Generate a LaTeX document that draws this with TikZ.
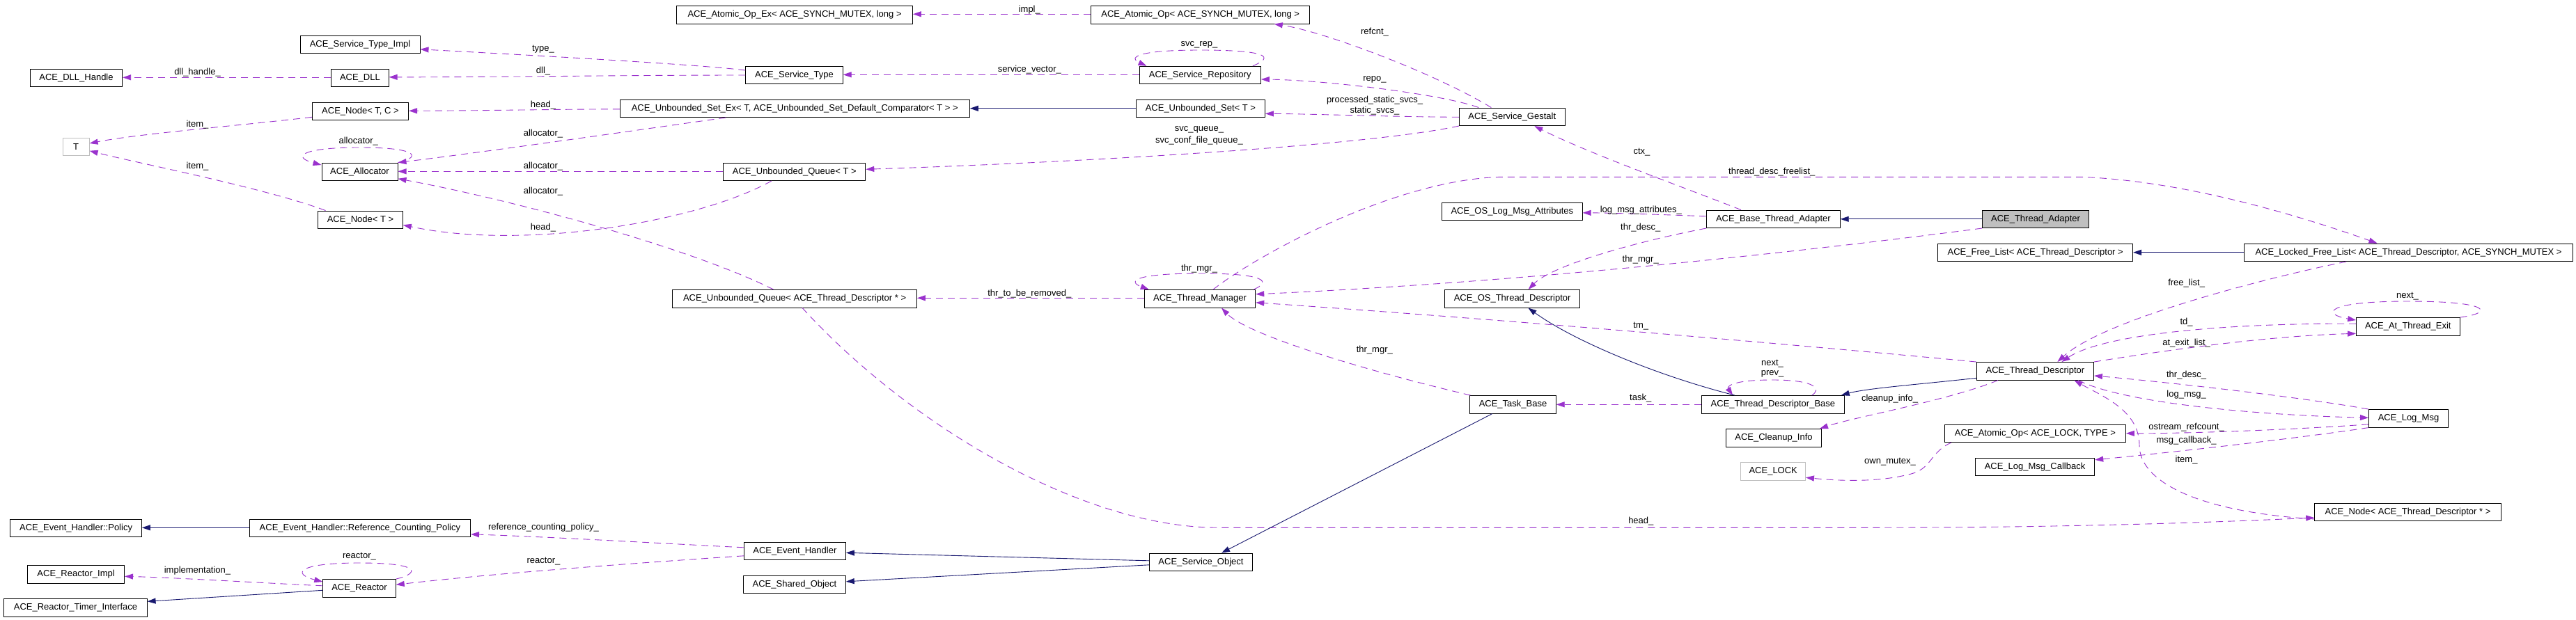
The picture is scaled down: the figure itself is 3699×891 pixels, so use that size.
\documentclass[tikz,border=0pt]{standalone}
\usepackage{fontspec}
\setmainfont{Liberation Sans}
\usetikzlibrary{arrows.meta,calc}
\definecolor{purp}{RGB}{154,50,205}
\definecolor{navyb}{RGB}{25,25,112}
\definecolor{gfill}{RGB}{191,191,191}
\newcommand\dxf{\fontsize{13pt}{15pt}\selectfont}
\begin{document}
\begin{tikzpicture}[x=1pt,y=-1pt,
  cls/.style={draw=black, line width=1pt, fill=white, inner sep=0pt, minimum height=25.5pt, font=\dxf},
  ext/.style={cls, draw=gfill},
  cur/.style={cls, fill=gfill},
  lab/.style={inner sep=0pt, font=\dxf},
  dep/.style={draw=purp, line width=0.9pt, dash pattern=on 10pt off 7pt, -{Triangle[length=12pt,width=8pt]}},
  inh/.style={draw=navyb, line width=0.9pt, -{Triangle[length=12pt,width=8pt]}}]
\useasboundingbox[fill=white] (0,0) rectangle (3699,891);
% classes
\node[cls, minimum width=338.6pt] (aopex) at (1141.1,21.3) {ACE\_Atomic\_Op\_Ex< ACE\_SYNCH\_MUTEX, long >};
\node[cls, minimum width=314pt] (aop) at (1723.7,21.3) {ACE\_Atomic\_Op< ACE\_SYNCH\_MUTEX, long >};
\node[cls, minimum width=172pt] (sti) at (517,63.8) {ACE\_Service\_Type\_Impl};
\node[cls, minimum width=132.3pt] (dllh) at (109.5,111.8) {ACE\_DLL\_Handle};
\node[cls, minimum width=82.4pt] (dll) at (516.9,111.8) {ACE\_DLL};
\node[cls, minimum width=139.4pt] (st) at (1140.5,108) {ACE\_Service\_Type};
\node[cls, minimum width=174.4pt] (srep) at (1723.2,108) {ACE\_Service\_Repository};
\node[cls, minimum width=138.2pt] (nodetc) at (517.5,159.8) {ACE\_Node< T, C >};
\node[cls, minimum width=502pt] (usetex) at (1141.3,155.8) {ACE\_Unbounded\_Set\_Ex< T, ACE\_Unbounded\_Set\_Default\_Comparator< T > >};
\node[cls, minimum width=185.1pt] (uset) at (1723.9,155.8) {ACE\_Unbounded\_Set< T >};
\node[ext, minimum width=37.9pt] (T) at (109.2,210.8) {T};
\node[cls, minimum width=109pt] (alloc) at (516.5,246.8) {ACE\_Allocator};
\node[cls, minimum width=204pt] (uq) at (1140.8,246.8) {ACE\_Unbounded\_Queue< T >};
\node[cls, minimum width=151.8pt] (gestalt) at (2171.3,167.8) {ACE\_Service\_Gestalt};
\node[cls, minimum width=121.6pt] (nodet) at (517.5,315.8) {ACE\_Node< T >};
\node[cls, minimum width=201.6pt] (oslma) at (2171.3,303.8) {ACE\_OS\_Log\_Msg\_Attributes};
\node[cls, minimum width=191.6pt] (bta) at (2546.4,314.8) {ACE\_Base\_Thread\_Adapter};
\node[cur, minimum width=152.9pt] (ta) at (2923,314.8) {ACE\_Thread\_Adapter};
\node[cls, minimum width=279.7pt] (fl) at (2922.7,362.8) {ACE\_Free\_List< ACE\_Thread\_Descriptor >};
\node[cls, minimum width=472.1pt] (lfl) at (3458.5,362.8) {ACE\_Locked\_Free\_List< ACE\_Thread\_Descriptor, ACE\_SYNCH\_MUTEX >};
\node[cls, minimum width=350.6pt] (uqtd) at (1141.1,429.3) {ACE\_Unbounded\_Queue< ACE\_Thread\_Descriptor * >};
\node[cls, minimum width=159.5pt] (tm) at (1723,429.3) {ACE\_Thread\_Manager};
\node[cls, minimum width=194pt] (ostd) at (2171.6,429.3) {ACE\_OS\_Thread\_Descriptor};
\node[cls, minimum width=148.4pt] (ate) at (3457.8,469.3) {ACE\_At\_Thread\_Exit};
\node[cls, minimum width=168.1pt] (td) at (2922.4,533.3) {ACE\_Thread\_Descriptor};
\node[cls, minimum width=123.4pt] (tb) at (2172.5,581.3) {ACE\_Task\_Base};
\node[cls, minimum width=204.7pt] (tdb) at (2545.9,581.3) {ACE\_Thread\_Descriptor\_Base};
\node[cls, minimum width=114pt] (lm) at (3458.5,601.3) {ACE\_Log\_Msg};
\node[cls, minimum width=137pt] (ci) at (2547,629.3) {ACE\_Cleanup\_Info};
\node[cls, minimum width=259.9pt] (aolt) at (2922.4,622.8) {ACE\_Atomic\_Op< ACE\_LOCK, TYPE >};
\node[cls, minimum width=171.4pt] (lmc) at (2922,670.8) {ACE\_Log\_Msg\_Callback};
\node[ext, minimum width=92.5pt] (lock) at (2546.2,677.3) {ACE\_LOCK};
\node[cls, minimum width=267.6pt] (ntd) at (3457.5,736) {ACE\_Node< ACE\_Thread\_Descriptor * >};
\node[cls, minimum width=188.6pt] (policy) at (109.1,758.8) {ACE\_Event\_Handler::Policy};
\node[cls, minimum width=317.3pt] (rcp) at (516.9,758.8) {ACE\_Event\_Handler::Reference\_Counting\_Policy};
\node[cls, minimum width=145.9pt] (eh) at (1141.4,791.8) {ACE\_Event\_Handler};
\node[cls, minimum width=138.8pt] (rimpl) at (109.1,825.3) {ACE\_Reactor\_Impl};
\node[cls, minimum width=104.4pt] (reactor) at (516,845.3) {ACE\_Reactor};
\node[cls, minimum width=205.2pt] (rti) at (108.5,873.3) {ACE\_Reactor\_Timer\_Interface};
\node[cls, minimum width=146.5pt] (sho) at (1141,839.8) {ACE\_Shared\_Object};
\node[cls, minimum width=148.3pt] (so) at (1724.5,807.8) {ACE\_Service\_Object};
% dependency edges
\draw[dep] ($(gestalt.north)+(-30,0)$) .. controls (2060,105) and (1900,45) .. ($(aop.south)+(106,0)$);
\draw[dep] ($(aop.west)+(0,-1)$) -- ($(aopex.east)+(0,-1)$);
\draw[dep] ($(st.west)+(0,-7)$) .. controls (1000,92) and (700,76) .. ($(sti.east)+(0,7)$);
\draw[dep] (st.west) .. controls (900,108) and (700,111) .. ($(dll.east)+(0,-1)$);
\draw[dep] ($(dll.west)+(0,-0.5)$) -- ($(dllh.east)+(0,-0.5)$);
\draw[dep] ($(srep.west)+(0,-0.7)$) -- ($(st.east)+(0,-0.7)$);
\draw[dep] ($(srep.north east)+(-12,0)$) .. controls (1830,82) and (1822,72) .. (1723,72) .. controls (1626,72) and (1622,84) .. ($(srep.north west)+(11,0)$);
\draw[dep] ($(gestalt.north)+(-48,0)$) .. controls (2070,135) and (1900,115) .. ($(srep.east)+(0,6)$);
\draw[dep] ($(gestalt.west)+(0,0.5)$) .. controls (2000,168) and (1900,164) .. ($(uset.east)+(0,7.5)$);
\draw[dep] (gestalt.south west) .. controls (1950,212) and (1500,235) .. ($(uq.east)+(0,-3.5)$);
\draw[dep] ($(usetex.west)+(0,1)$) .. controls (800,157) and (700,159) .. ($(nodetc.east)+(0,-0.5)$);
\draw[dep] ($(usetex.south)+(-99,0)$) .. controls (950,182) and (700,218) .. (alloc.north east);
\draw[dep] ($(uq.west)+(0,-0.5)$) -- ($(alloc.east)+(0,-0.5)$);
\draw[dep] ($(uqtd.north)+(-30.5,0)$) .. controls (1000,360) and (750,290) .. ($(alloc.east)+(0,10)$);
\draw[dep] ($(uq.south)+(-33,0)$) .. controls (1000,320) and (750,360) .. ($(nodet.east)+(0,7.5)$);
\draw[dep] ($(nodetc.west)+(0,8.5)$) .. controls (350,180) and (200,192) .. ($(T.east)+(0,-4.8)$);
\draw[dep] ($(nodet.north)+(-50,0)$) .. controls (380,270) and (200,235) .. ($(T.east)+(0,6)$);
\draw[dep] (alloc.north east) .. controls (600,228) and (610,212) .. (516,212) .. controls (430,212) and (420,226) .. ($(alloc.north west)+(0,3.5)$);
\draw[dep] ($(tm.north east)+(-3,0)$) .. controls (1825,405) and (1820,393) .. (1723,393) .. controls (1625,393) and (1620,405) .. ($(tm.north west)+(7,0)$);
\draw[dep] ($(tm.west)+(0,-1)$) -- ($(uqtd.east)+(0,-1)$);
\draw[dep] ($(bta.north)+(-46.5,0)$) .. controls (2420,270) and (2280,220) .. ($(gestalt.south)+(32,0)$);
\draw[dep] ($(bta.west)+(0,-4)$) .. controls (2400,309) and (2320,306) .. ($(oslma.east)+(0,2)$);
\draw[dep] (bta.south west) .. controls (2360,345) and (2230,380) .. ($(ostd.north)+(23,0)$);
\draw[dep] (ta.south west) .. controls (2600,360) and (2200,405) .. ($(tm.east)+(0,-6.5)$);
\draw[dep] ($(tm.north)+(19,0)$) .. controls (1800,370) and (2000,258) .. (2156,254.3) -- (2987,254.3) .. controls (3150,260) and (3330,320) .. ($(lfl.north)+(-45,0)$);
\draw[dep] (td.north west) .. controls (2500,488) and (2100,455) .. ($(tm.east)+(0,5.5)$);
\draw[dep] ($(tb.north)+(-61,0)$) .. controls (1950,530) and (1790,480) .. ($(tm.south)+(31,0)$);
\draw[dep] (tdb.west) -- (tb.east);
\draw[dep] ($(tdb.north east)+(-47,0)$) .. controls (2615,560) and (2610,546) .. (2545,546) .. controls (2485,546) and (2480,556) .. ($(tdb.north west)+(45,0)$);
\draw[dep] ($(td.south)+(-53.6,0)$) .. controls (2800,575) and (2660,600) .. ($(ci.north east)+(-3,0)$);
\draw[dep] ($(aolt.south west)+(10,0)$) .. controls (2770,650) and (2775,675) .. (2740,682) .. controls (2700,692) and (2650,692) .. ($(lock.east)+(0,9)$);
\draw[dep] ($(lfl.south)+(-89.5,0)$) .. controls (3250,400) and (3020,460) .. ($(td.north)+(32,0)$);
\draw[dep] ($(ate.west)+(0,-4)$) .. controls (3200,464) and (3020,480) .. ($(td.north)+(38,0)$);
\draw[dep] (td.north east) .. controls (3100,505) and (3250,483) .. ($(ate.west)+(0,10)$);
\draw[dep] (ate.north east) .. controls (3580,450) and (3580,433) .. (3458,433) .. controls (3335,433) and (3335,452) .. ($(ate.north west)+(0,4)$);
\draw[dep] (lm.north west) .. controls (3300,570) and (3100,548) .. ($(td.east)+(0,6.7)$);
\draw[dep] ($(td.south)+(62,0)$) .. controls (3050,580) and (3250,597) .. ($(lm.west)+(0,-1)$);
\draw[dep] ($(lm.west)+(0,8.5)$) .. controls (3300,617) and (3150,623) .. (aolt.east);
\draw[dep] (lm.south west) .. controls (3300,630) and (3100,652) .. ($(lmc.east)+(0,-10)$);
\draw[dep] ($(ntd.west)+(0,10)$) .. controls (3150,735) and (3072,690) .. (3072,640) .. controls (3072,590) and (3020,570) .. ($(td.south)+(56,0)$);
\draw[dep] ($(uqtd.south)+(11,0)$) .. controls (1302,607) and (1550,758) .. (1750,758.3) -- (2700,758.3) .. controls (2950,758) and (3150,752) .. ($(ntd.west)+(0,8)$);
\draw[dep] ($(eh.west)+(0,-5)$) .. controls (950,781) and (800,772) .. ($(rcp.east)+(0,9)$);
\draw[dep] ($(eh.west)+(0,7)$) .. controls (900,810) and (700,825) .. ($(reactor.east)+(0,-5)$);
\draw[dep] (reactor.north east) .. controls (600,825) and (610,809) .. (516,809) .. controls (425,809) and (420,825) .. ($(reactor.north west)+(0,4)$);
\draw[dep] ($(reactor.west)+(0,-3.5)$) .. controls (380,838) and (250,830) .. ($(rimpl.east)+(0,3)$);
% inheritance edges
\draw[inh] (uset.west) -- (usetex.east);
\draw[inh] (ta.west) -- (bta.east);
\draw[inh] (lfl.west) -- (fl.east);
\draw[inh] ($(tdb.north)+(-55,0)$) .. controls (2380,540) and (2260,490) .. ($(ostd.south)+(22.8,0)$);
\draw[inh] ($(td.west)+(0,10)$) .. controls (2760,552) and (2680,558) .. ($(tdb.north east)+(-5,0)$);
\draw[inh] ($(tb.south)+(-29.7,0)$) -- ($(so.north)+(29.5,0)$);
\draw[inh] ($(so.west)+(0,-2)$) -- ($(eh.east)+(0,2.5)$);
\draw[inh] ($(so.west)+(0,4)$) -- ($(sho.east)+(0,-4)$);
\draw[inh] ($(rcp.west)+(0,-0.5)$) -- ($(policy.east)+(0,-0.5)$);
\draw[inh] ($(reactor.west)+(0,3)$) -- ($(rti.east)+(0,-9)$);
% labels
\node[lab] (l01) at (1974,46) {refcnt\_};
\node[lab] (l02) at (1478.3,14) {impl\_};
\node[lab] (l03) at (780,71) {type\_};
\node[lab] (l04) at (780,102.3) {dll\_};
\node[lab] (l05) at (283.5,103.7) {dll\_handle\_};
\node[lab] (l06) at (1478.3,100) {service\_vector\_};
\node[lab] (l07) at (1722,64) {svc\_rep\_};
\node[lab] (l08) at (1974,114) {repo\_};
\node[lab] (l09) at (1974,144) {processed\_static\_svcs\_};
\node[lab] (l10) at (1974,159) {static\_svcs\_};
\node[lab] (l11) at (1722,186.7) {svc\_queue\_};
\node[lab] (l12) at (1722,201.7) {svc\_conf\_file\_queue\_};
\node[lab] (l13) at (780,150.7) {head\_};
\node[lab] (l14) at (780,191.7) {allocator\_};
\node[lab] (l15) at (780,238.7) {allocator\_};
\node[lab] (l16) at (780,275) {allocator\_};
\node[lab] (l17) at (780,327.3) {head\_};
\node[lab] (l18) at (283.5,178.7) {item\_};
\node[lab] (l19) at (283.5,238.7) {item\_};
\node[lab] (l20) at (514.8,202.7) {allocator\_};
\node[lab] (l21) at (1722,386) {thr\_mgr\_};
\node[lab] (l22) at (1478.3,421.7) {thr\_to\_be\_removed\_};
\node[lab] (l23) at (2357.5,218.3) {ctx\_};
\node[lab] (l24) at (2356.3,301.7) {log\_msg\_attributes\_};
\node[lab] (l25) at (2355.7,326.7) {thr\_desc\_};
\node[lab] (l26) at (2355.7,373.3) {thr\_mgr\_};
\node[lab] (l27) at (2544.3,246.7) {thread\_desc\_freelist\_};
\node[lab] (l28) at (2356.3,468.3) {tm\_};
\node[lab] (l29) at (1973.8,503.3) {thr\_mgr\_};
\node[lab] (l30) at (2355.7,571.7) {task\_};
\node[lab] (l31) at (2545,522.7) {next\_};
\node[lab] (l32) at (2545,537.7) {prev\_};
\node[lab] (l33) at (2713.5,573.5) {cleanup\_info\_};
\node[lab] (l34) at (2714,664) {own\_mutex\_};
\node[lab] (l35) at (3139.6,406.7) {free\_list\_};
\node[lab] (l36) at (3139.6,463.3) {td\_};
\node[lab] (l37) at (3139.6,493.3) {at\_exit\_list\_};
\node[lab] (l38) at (3456.9,426) {next\_};
\node[lab] (l39) at (3139.6,539.3) {thr\_desc\_};
\node[lab] (l40) at (3139.6,567.3) {log\_msg\_};
\node[lab] (l41) at (3139.6,613.7) {ostream\_refcount\_};
\node[lab] (l42) at (3139.6,633.3) {msg\_callback\_};
\node[lab] (l43) at (3139.6,661.3) {item\_};
\node[lab] (l44) at (2356.3,749.3) {head\_};
\node[lab] (l45) at (780.5,758.3) {reference\_counting\_policy\_};
\node[lab] (l46) at (780.5,806.7) {reactor\_};
\node[lab] (l47) at (516,800) {reactor\_};
\node[lab] (l48) at (283.5,820) {implementation\_};
\end{tikzpicture}
\end{document}
